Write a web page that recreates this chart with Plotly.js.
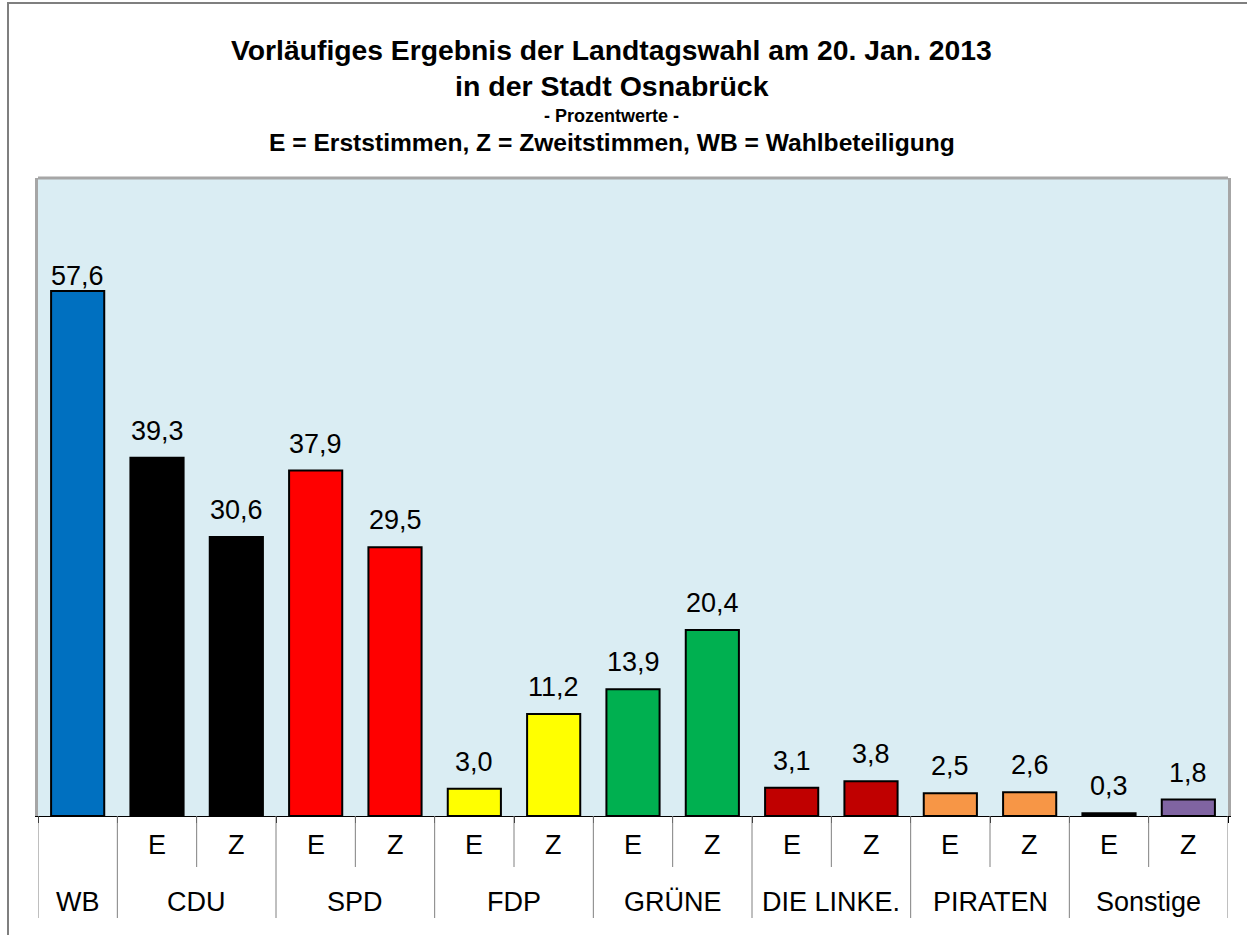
<!DOCTYPE html>
<html>
<head>
<meta charset="utf-8">
<script src="https://cdn.plot.ly/plotly-3.0.1.min.js"></script>
<style>
	body { margin: 0; overflow: hidden; background: #ffffff; }
	#frame { position: absolute; left: 7px; top: 2px; width: 1400px; height: 1100px;
		border-left: 2px solid #7f7f7f; border-top: 2px solid #7f7f7f; pointer-events: none; }
	#chart { position: absolute; left: 0; top: 0; width: 1247px; height: 935px; }
</style>
</head>
<body>
<div id="chart"></div>
<div id="frame"></div>
<script>
	/* Data */
	var parties = ['CDU', 'SPD', 'FDP', 'GRÜNE', 'DIE LINKE.', 'PIRATEN', 'Sonstige'];
	var erststimmen = [39.3, 37.9, 3.0, 13.9, 3.1, 2.5, 0.3];
	var zweitstimmen = [30.6, 29.5, 11.2, 20.4, 3.8, 2.6, 1.8];
	var ezColors = [
		['#000000', '#000000'],
		['#FF0000', '#FF0000'],
		['#FFFF00', '#FFFF00'],
		['#00B050', '#00B050'],
		['#C00000', '#C00000'],
		['#F79646', '#F79646'],
		['#000000', '#8064A2']
	];
	var wbLabel = 'WB';
	var wbValue = 57.6;
	var wbColor = '#0070C0';
	var subLabels = ['E', 'Z'];
	var titleLines = [
		'Vorläufiges Ergebnis der Landtagswahl am 20. Jan. 2013',
		'in der Stadt Osnabrück',
		'- Prozentwerte -',
		'E = Erststimmen, Z = Zweitstimmen, WB = Wahlbeteiligung'
	];

	/* Build categories */
	var keys = [wbLabel], yVals = [wbValue], colors = [wbColor];
	parties.forEach(function(p, i) {
		keys.push(p + ' ' + subLabels[0], p + ' ' + subLabels[1]);
		yVals.push(erststimmen[i], zweitstimmen[i]);
		colors.push(ezColors[i][0], ezColors[i][1]);
	});

	var font = 'Arial, "Liberation Sans", sans-serif';
	var plotH = 638;
	function below(px) { return -px / plotH; }

	var trace = {
		type: 'bar',
		x: keys,
		y: yVals,
		marker: { color: colors, line: { color: '#000000', width: 2 } },
		cliponaxis: false,
		hoverinfo: 'none'
	};

	/* Title lines */
	var titleY = [1.2006, 1.1442, 1.0972, 1.0549];
	var titleSize = [28.3, 28.5, 18, 24.6];
	var annotations = titleLines.map(function(t, i) {
		return {
			text: '<b>' + t + '</b>', xref: 'paper', yref: 'paper',
			x: 0.482, y: titleY[i], xanchor: 'center', yanchor: 'middle',
			showarrow: false, font: { family: font, size: titleSize[i], color: '#000000' }
		};
	});

	/* Value labels above the bars */
	yVals.forEach(function(v, i) {
		annotations.push({
			text: v.toFixed(1).replace('.', ','), xref: 'x', yref: 'y', x: i, y: v,
			xanchor: 'center', yanchor: 'bottom', yshift: i === 0 ? -2 : 10,
			showarrow: false, font: { family: font, size: 27, color: '#000000' }
		});
	});

	/* Two-level category labels and separators */
	var shapes = [];
	function sepLine(pos, depth) {
		shapes.push({
			type: 'line', xref: 'x', yref: 'paper', x0: pos, x1: pos, y0: 0, y1: below(depth),
			line: { color: '#808080', width: 1 }
		});
	}
	function label(pos, text, depth) {
		annotations.push({
			text: text, xref: 'x', yref: 'paper', x: pos, y: below(depth),
			xanchor: 'center', yanchor: 'middle', showarrow: false,
			font: { family: font, size: 27, color: '#000000' }
		});
	}
	label(0, wbLabel, 86);
	sepLine(-0.5, 102);
	sepLine(0.5, 102);
	parties.forEach(function(p, i) {
		var e = 1 + 2 * i, z = e + 1;
		label(e, subLabels[0], 29);
		label(z, subLabels[1], 29);
		label((e + z) / 2, p, 86);
		sepLine(e + 0.5, 51);
		sepLine(z + 0.5, 102);
	});

	/* Top border of plot area */
	shapes.push({
		type: 'line', xref: 'paper', yref: 'paper', x0: 0, x1: 1, y0: 1, y1: 1,
		line: { color: '#A6A6A6', width: 3 }
	});

	var layout = {
		width: 1247,
		height: 935,
		margin: { l: 38, r: 19, t: 178, b: 119 },
		paper_bgcolor: 'rgba(0,0,0,0)',
		plot_bgcolor: '#DAEDF3',
		showlegend: false,
		bargap: 0.33,
		font: { family: font, color: '#000000' },
		xaxis: {
			type: 'category',
			range: [-0.5, keys.length - 0.5],
			showticklabels: false,
			showline: true, linecolor: '#000000', linewidth: 1,
			ticks: 'outside', tickson: 'boundaries', ticklen: 6, tickcolor: '#000000', tickwidth: 1,
			showgrid: false
		},
		yaxis: {
			range: [0, 70], showgrid: false, zeroline: false,
			showticklabels: false, ticks: '',
			showline: true, mirror: true, linecolor: '#A6A6A6', linewidth: 3
		},
		shapes: shapes,
		annotations: annotations
	};

	Plotly.newPlot('chart', [trace], layout, { staticPlot: true });
</script>
</body>
</html>
